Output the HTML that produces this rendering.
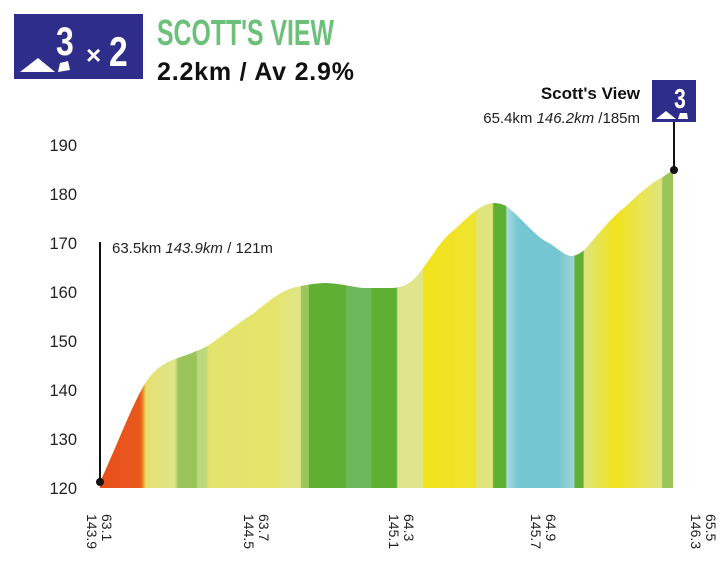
<!DOCTYPE html>
<html><head><meta charset="utf-8"><style>
body{margin:0;background:#fff;width:728px;height:582px;overflow:hidden;font-family:"Liberation Sans",sans-serif;}
</style></head><body>
<svg width="728" height="582" xmlns="http://www.w3.org/2000/svg">
<defs>
<linearGradient id="g" x1="100" x2="673" y1="0" y2="0" gradientUnits="userSpaceOnUse">
<stop offset="0" stop-color="#e84e1b"/>
<stop offset="0.07" stop-color="#e85a1b"/>
<stop offset="0.075" stop-color="#f08a20"/>
<stop offset="0.08" stop-color="#e6e070"/>
<stop offset="0.13" stop-color="#dfe68c"/>
<stop offset="0.137" stop-color="#9bc45a"/>
<stop offset="0.168" stop-color="#9bc45a"/>
<stop offset="0.17" stop-color="#bcd87e"/>
<stop offset="0.185" stop-color="#bcd87e"/>
<stop offset="0.19" stop-color="#e2e46e"/>
<stop offset="0.3" stop-color="#e6e46a"/>
<stop offset="0.35" stop-color="#dfe58a"/>
<stop offset="0.351" stop-color="#9dc65a"/>
<stop offset="0.364" stop-color="#9dc65a"/>
<stop offset="0.365" stop-color="#5faf32"/>
<stop offset="0.428" stop-color="#5faf32"/>
<stop offset="0.43" stop-color="#6cb85a"/>
<stop offset="0.473" stop-color="#6cb85a"/>
<stop offset="0.475" stop-color="#5faf32"/>
<stop offset="0.517" stop-color="#5faf32"/>
<stop offset="0.52" stop-color="#dfe58a"/>
<stop offset="0.563" stop-color="#dfe58a"/>
<stop offset="0.565" stop-color="#f3e31c"/>
<stop offset="0.655" stop-color="#eee330"/>
<stop offset="0.658" stop-color="#dfe47c"/>
<stop offset="0.685" stop-color="#dfe47c"/>
<stop offset="0.687" stop-color="#5faf32"/>
<stop offset="0.708" stop-color="#5faf32"/>
<stop offset="0.71" stop-color="#a8dade"/>
<stop offset="0.73" stop-color="#74c6d2"/>
<stop offset="0.8" stop-color="#74c6d2"/>
<stop offset="0.827" stop-color="#9fd4d6"/>
<stop offset="0.829" stop-color="#5faf32"/>
<stop offset="0.843" stop-color="#5faf32"/>
<stop offset="0.845" stop-color="#dfe47c"/>
<stop offset="0.9" stop-color="#f0e31c"/>
<stop offset="0.95" stop-color="#e8e55a"/>
<stop offset="0.98" stop-color="#dfe47c"/>
<stop offset="0.982" stop-color="#9bc45a"/>
<stop offset="1" stop-color="#9bc45a"/>
</linearGradient>
</defs>
<!-- header badge -->
<rect x="14" y="14" width="129" height="65" fill="#2e2d8a"/>
<text x="56" y="55" font-weight="bold" font-size="40" fill="#fff" transform="translate(56 0) scale(0.8 1) translate(-56 0)">3</text>
<polygon points="20,72 38,58 55,72" fill="#fff"/>
<polygon points="58,72 60,63 68,61 70,70" fill="#fff"/>
<text x="86" y="64" font-weight="bold" font-size="26" fill="#fff">×</text>
<text x="109" y="66" font-weight="bold" font-size="42" fill="#fff" transform="translate(109 0) scale(0.8 1) translate(-109 0)">2</text>
<text x="157" y="45" font-weight="bold" font-size="36" fill="#6cc07a" transform="translate(157 0) scale(0.69 1) translate(-157 0)">SCOTT'S VIEW</text>
<text x="157" y="80" font-weight="bold" font-size="25" fill="#111" letter-spacing="0.8">2.2km / Av 2.9%</text>
<!-- y labels -->
<g font-size="16.5" fill="#222" text-anchor="end">
<text x="77" y="151">190</text><text x="77" y="200">180</text><text x="77" y="249">170</text>
<text x="77" y="298">160</text><text x="77" y="347">150</text><text x="77" y="396">140</text>
<text x="77" y="445">130</text><text x="77" y="494">120</text>
</g>
<!-- profile -->
<path d="M100,488 L100,482 C115,450 130,410 143,387 C152,370 165,362 178,358 C195,352 205,348 212,343 C230,330 240,322 254,313 C270,300 282,290 296,287 C310,284 320,283 327,283 C345,284 355,288 366,288 L393,288 C405,287 410,283 416,277 C432,258 440,240 454,230 C470,215 482,203 494,203 C503,203 508,207 511,210 C525,222 537,238 549,243 C560,250 565,256 572,256 C580,255 584,250 587,247 C600,232 612,217 625,207 C640,193 652,182 663,177 C667,174 670,172 673,171 L673,488 Z" fill="url(#g)"/>
<!-- annotations -->
<line x1="100" y1="242" x2="100" y2="482" stroke="#111" stroke-width="2"/>
<circle cx="100" cy="482" r="4" fill="#111"/>
<text x="112" y="253" font-size="15" fill="#222">63.5km <tspan font-style="italic">143.9km</tspan> / 121m</text>
<line x1="674" y1="122" x2="674" y2="170" stroke="#111" stroke-width="2"/>
<circle cx="674" cy="170" r="4" fill="#111"/>
<rect x="652" y="80" width="44" height="42" fill="#2e2d8a"/>
<text x="680" y="108" font-weight="bold" font-size="28" fill="#fff" text-anchor="middle" transform="translate(680 0) scale(0.75 1) translate(-680 0)">3</text>
<polygon points="656,119 666,111 676,119" fill="#fff"/>
<polygon points="678,119 680,113 687,113 688,119" fill="#fff"/>
<text x="640" y="99" font-weight="bold" font-size="17" fill="#111" text-anchor="end">Scott's View</text>
<text x="640" y="123" font-size="15" fill="#222" text-anchor="end">65.4km <tspan font-style="italic">146.2km</tspan> /185m</text>
<!-- x labels rotated -->
<g font-size="14" fill="#222">
<g transform="translate(100,514) rotate(90)"><text x="0" y="-2">63.1</text><text x="0" y="13">143.9</text></g>
<g transform="translate(257,514) rotate(90)"><text x="0" y="-2">63.7</text><text x="0" y="13">144.5</text></g>
<g transform="translate(402,514) rotate(90)"><text x="0" y="-2">64.3</text><text x="0" y="13">145.1</text></g>
<g transform="translate(544,514) rotate(90)"><text x="0" y="-2">64.9</text><text x="0" y="13">145.7</text></g>
<g transform="translate(704,514) rotate(90)"><text x="0" y="-2">65.5</text><text x="0" y="13">146.3</text></g>
</g>
</svg>
</body></html>
